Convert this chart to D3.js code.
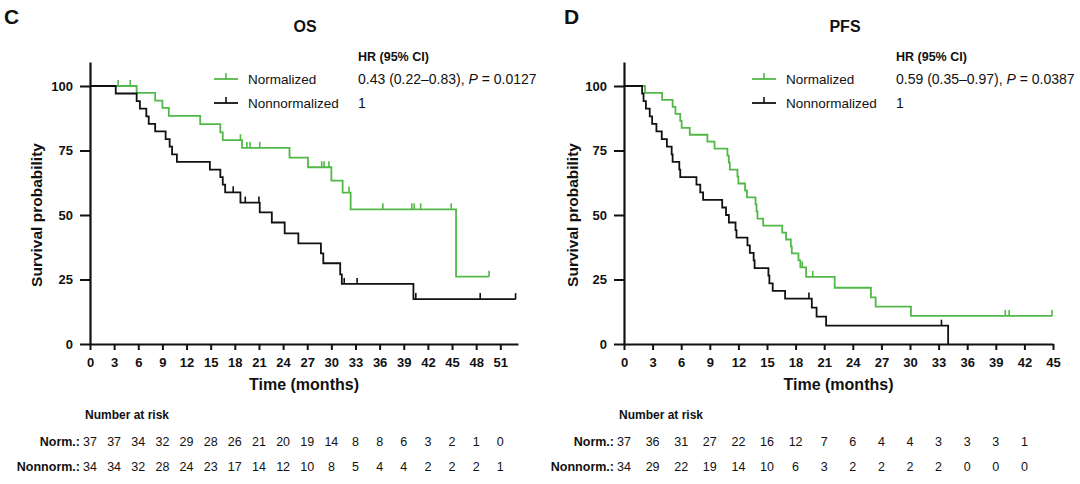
<!DOCTYPE html>
<html><head><meta charset="utf-8">
<script src="https://cdn.jsdelivr.net/npm/d3@7"></script>
<style>
body{margin:0;background:#fff}
svg{display:block}
text{font-family:"Liberation Sans",Arial,Helvetica,sans-serif;fill:#111}
</style>
</head><body>
<svg id="chart" width="1080" height="484"></svg>
<script>
// ---------- DATA ----------
const yTicks = [0, 25, 50, 75, 100];
const groupNames = ["Normalized", "Nonnormalized"];
const riskLabels = ["Norm.:", "Nonnorm.:"];

// OS panel
const osXTicks = [0,3,6,9,12,15,18,21,24,27,30,33,36,39,42,45,48,51];
const osNormTimes = [0, 5.8, 8.1, 9.0, 9.8, 13.7, 16.2, 16.5, 18.9, 24.8, 27.1, 30.0, 31.4, 32.4, 45.5];
const osNormSurv  = [100, 97.3, 94.3, 91.5, 88.4, 85.2, 82.0, 79.0, 76.0, 72.2, 68.5, 63.3, 58.7, 52.2, 26.1];
const osNormEnd = 49.6;
const osNormCensor = [3.5, 5.0, 18.7, 19.5, 19.9, 21.1, 28.8, 29.1, 29.7, 32.2, 36.4, 40.0, 40.3, 41.1, 44.9, 49.6];
const osNonTimes = [0, 3.2, 5.8, 6.2, 7.0, 7.3, 8.1, 9.4, 9.9, 10.2, 10.8, 14.9, 16.2, 16.5, 16.8, 18.7, 21.1, 22.6, 24.2, 25.9, 28.7, 29.0, 31.1, 31.3, 40.2];
const osNonSurv  = [100, 97.1, 94.1, 91.2, 88.2, 85.3, 82.4, 79.4, 76.5, 73.5, 70.6, 67.6, 64.7, 61.8, 58.8, 54.8, 51.0, 47.1, 42.9, 39.0, 35.1, 31.3, 27.0, 23.3, 17.4];
const osNonEnd = 52.9;
const osNonCensor = [17.8, 19.3, 21.0, 31.6, 33.2, 40.5, 48.5, 52.9];
const osRiskNorm = [37,37,34,32,29,28,26,21,20,19,14,8,8,6,3,2,1,0];
const osRiskNon  = [34,34,32,28,24,23,17,14,12,10,8,5,4,4,2,2,2,1];
const osHR = ["0.43 (0.22\u20130.83), ", "P", " = 0.0127"];

// PFS panel
const pfsXTicks = [0,3,6,9,12,15,18,21,24,27,30,33,36,39,42,45];
const pfsNormTimes = [0, 2.2, 4.0, 5.1, 5.4, 5.9, 6.05, 6.9, 8.75, 9.5, 10.85, 11.0, 11.1, 11.9, 12.0, 12.7, 12.9, 13.8, 13.9, 14.0, 14.6, 16.6, 17.0, 17.5, 17.6, 18.3, 18.5, 19.1, 22.1, 25.9, 26.4, 30.1];
const pfsNormSurv  = [100, 97.3, 94.6, 91.9, 89.2, 86.5, 83.8, 81.1, 78.4, 75.7, 73.0, 70.3, 67.6, 64.9, 62.2, 59.5, 56.8, 54.1, 51.4, 48.6, 45.9, 43.2, 40.5, 37.8, 35.1, 32.4, 29.7, 26.0, 21.8, 18.1, 14.5, 10.9];
const pfsNormEnd = 44.9;
const pfsNormCensor = [18.7, 19.8, 40.0, 40.4, 44.9];
const pfsNonTimes = [0, 1.9, 2.05, 2.3, 2.7, 2.95, 3.4, 3.96, 4.5, 5.0, 5.1, 5.8, 5.9, 7.6, 8.0, 8.3, 10.3, 10.7, 11.0, 11.7, 11.8, 12.95, 13.2, 13.6, 13.7, 15.15, 15.25, 15.6, 16.9, 19.7, 20.2, 21.2, 34.0];
const pfsNonSurv  = [100, 97.1, 94.1, 91.2, 88.2, 85.3, 82.4, 79.4, 76.5, 73.5, 70.6, 67.6, 64.7, 61.8, 58.8, 55.9, 52.9, 50.0, 47.1, 44.1, 41.2, 38.2, 35.3, 32.4, 29.4, 26.5, 23.5, 20.6, 17.6, 14.1, 10.6, 7.1, 0];
const pfsNonEnd = 34.0;
const pfsNonCensor = [19.4, 33.3];
const pfsRiskNorm = [37,36,31,27,22,16,12,7,6,4,4,3,3,3,1];
const pfsRiskNon  = [34,29,22,19,14,10,6,3,2,2,2,2,0,0,0];
const pfsHR = ["0.59 (0.35\u20130.97), ", "P", " = 0.0387"];

// ---------- STYLE ----------
const GREEN = "#52b848";
const LABEL_GREEN = "#2f9e3f";
const DARK = "#111";

const svg = d3.select("#chart");

function drawPanel(p) {
  const g = svg.append("g");
  const x = d3.scaleLinear().domain([0, p.xMax]).range([p.x0, p.x1]);
  const y = d3.scaleLinear().domain([0, 109.3]).range([344, 62]);

  g.append("text").attr("x", p.letterX).attr("y", 24).attr("font-size", 21).attr("font-weight", "bold").text(p.letter);
  g.append("text").attr("x", p.titleX).attr("y", 32).attr("text-anchor", "middle").attr("font-size", 16).attr("font-weight", "bold").text(p.title);

  const yAxis = d3.axisLeft(y).tickValues(yTicks).tickSize(10).tickSizeOuter(0).tickPadding(7);
  const ya = g.append("g").attr("transform", `translate(${p.x0},0)`).call(yAxis);
  const xAxis = d3.axisBottom(x).tickValues(p.xTicks).tickSize(6).tickSizeOuter(0).tickPadding(8);
  const xa = g.append("g").attr("transform", `translate(0,${y(0)})`).call(xAxis);
  [ya, xa].forEach(a => {
    a.select(".domain").attr("stroke", DARK).attr("stroke-width", 2.2);
    a.selectAll(".tick line").attr("stroke", DARK).attr("stroke-width", 2);
    a.selectAll(".tick text").attr("font-size", 13).attr("font-weight", "bold").attr("fill", DARK)
      .attr("font-family", '"Liberation Sans",Arial,sans-serif');
  });

  g.append("text").attr("transform", `translate(${p.ylabX},${y(50)}) rotate(-90)`)
    .attr("text-anchor", "middle").attr("font-size", 15.5).attr("font-weight", "bold").text("Survival probability");
  g.append("text").attr("x", (p.x0 + p.x1) / 2).attr("y", 390).attr("text-anchor", "middle")
    .attr("font-size", 16).attr("font-weight", "bold").text("Time (months)");

  const line = d3.line().x(d => x(d[0])).y(d => y(d[1])).curve(d3.curveStepAfter);
  p.series.forEach(s => {
    const pts = s.times.map((t, i) => [t, s.surv[i]]);
    pts.push([s.end, s.surv[s.surv.length - 1]]);
    g.append("path").datum(pts).attr("fill", "none").attr("stroke", s.color).attr("stroke-width", 1.8).attr("d", line);
    g.selectAll(null).data(s.censor).enter().append("line")
      .attr("x1", d => x(d)).attr("x2", d => x(d))
      .attr("y1", d => y(s.surv[d3.bisectRight(s.times, d) - 1]))
      .attr("y2", d => y(s.surv[d3.bisectRight(s.times, d) - 1]) - 6)
      .attr("stroke", s.color).attr("stroke-width", 1.6);
  });

  g.append("text").attr("x", p.hrX).attr("y", 61).attr("font-size", 12.5).attr("font-weight", "bold").text("HR (95% CI)");
  p.series.forEach((s, i) => {
    const ly = 79 + i * 24;
    g.append("line").attr("x1", p.legX).attr("x2", p.legX + 24).attr("y1", ly).attr("y2", ly).attr("stroke", s.color).attr("stroke-width", 1.8);
    g.append("line").attr("x1", p.legX + 12).attr("x2", p.legX + 12).attr("y1", ly).attr("y2", ly - 6).attr("stroke", s.color).attr("stroke-width", 1.6);
    g.append("text").attr("x", p.legX + 34).attr("y", ly + 5).attr("font-size", 13.5).attr("fill", "#222").text(groupNames[i]);
    const t = g.append("text").attr("x", p.hrX).attr("y", ly + 5).attr("font-size", 14).attr("fill", "#222");
    if (i === 0) {
      t.append("tspan").text(p.hr[0]);
      t.append("tspan").attr("font-style", "italic").text(p.hr[1]);
      t.append("tspan").text(p.hr[2]);
    } else {
      t.text("1");
    }
  });

  g.append("text").attr("x", p.x0 - 5).attr("y", 419).attr("font-size", 12).attr("font-weight", "bold").text("Number at risk");
  const rows = [p.riskNorm, p.riskNon];
  rows.forEach((r, i) => {
    const ry = 446 + i * 25;
    g.append("text").attr("x", p.x0 - 10).attr("y", ry).attr("text-anchor", "end").attr("font-size", 12.5)
      .attr("font-weight", "bold").attr("fill", i === 0 ? LABEL_GREEN : DARK).text(riskLabels[i]);
    g.selectAll(null).data(r).enter().append("text")
      .attr("x", (d, j) => x(p.xTicks[j])).attr("y", ry).attr("text-anchor", "middle")
      .attr("font-size", 12.5).attr("fill", "#222").text(d => d);
  });
}

drawPanel({
  letter: "C", letterX: 4, title: "OS", titleX: 305,
  x0: 90, x1: 518, xMax: 53.2, xTicks: osXTicks, ylabX: 42,
  legX: 214, hrX: 358, hr: osHR,
  riskNorm: osRiskNorm, riskNon: osRiskNon,
  series: [
    {times: osNormTimes, surv: osNormSurv, end: osNormEnd, censor: osNormCensor, color: GREEN},
    {times: osNonTimes, surv: osNonSurv, end: osNonEnd, censor: osNonCensor, color: DARK}
  ]
});
drawPanel({
  letter: "D", letterX: 564, title: "PFS", titleX: 845,
  x0: 624, x1: 1053, xMax: 45, xTicks: pfsXTicks, ylabX: 578,
  legX: 752, hrX: 896, hr: pfsHR,
  riskNorm: pfsRiskNorm, riskNon: pfsRiskNon,
  series: [
    {times: pfsNormTimes, surv: pfsNormSurv, end: pfsNormEnd, censor: pfsNormCensor, color: GREEN},
    {times: pfsNonTimes, surv: pfsNonSurv, end: pfsNonEnd, censor: pfsNonCensor, color: DARK}
  ]
});
</script>
</body></html>
